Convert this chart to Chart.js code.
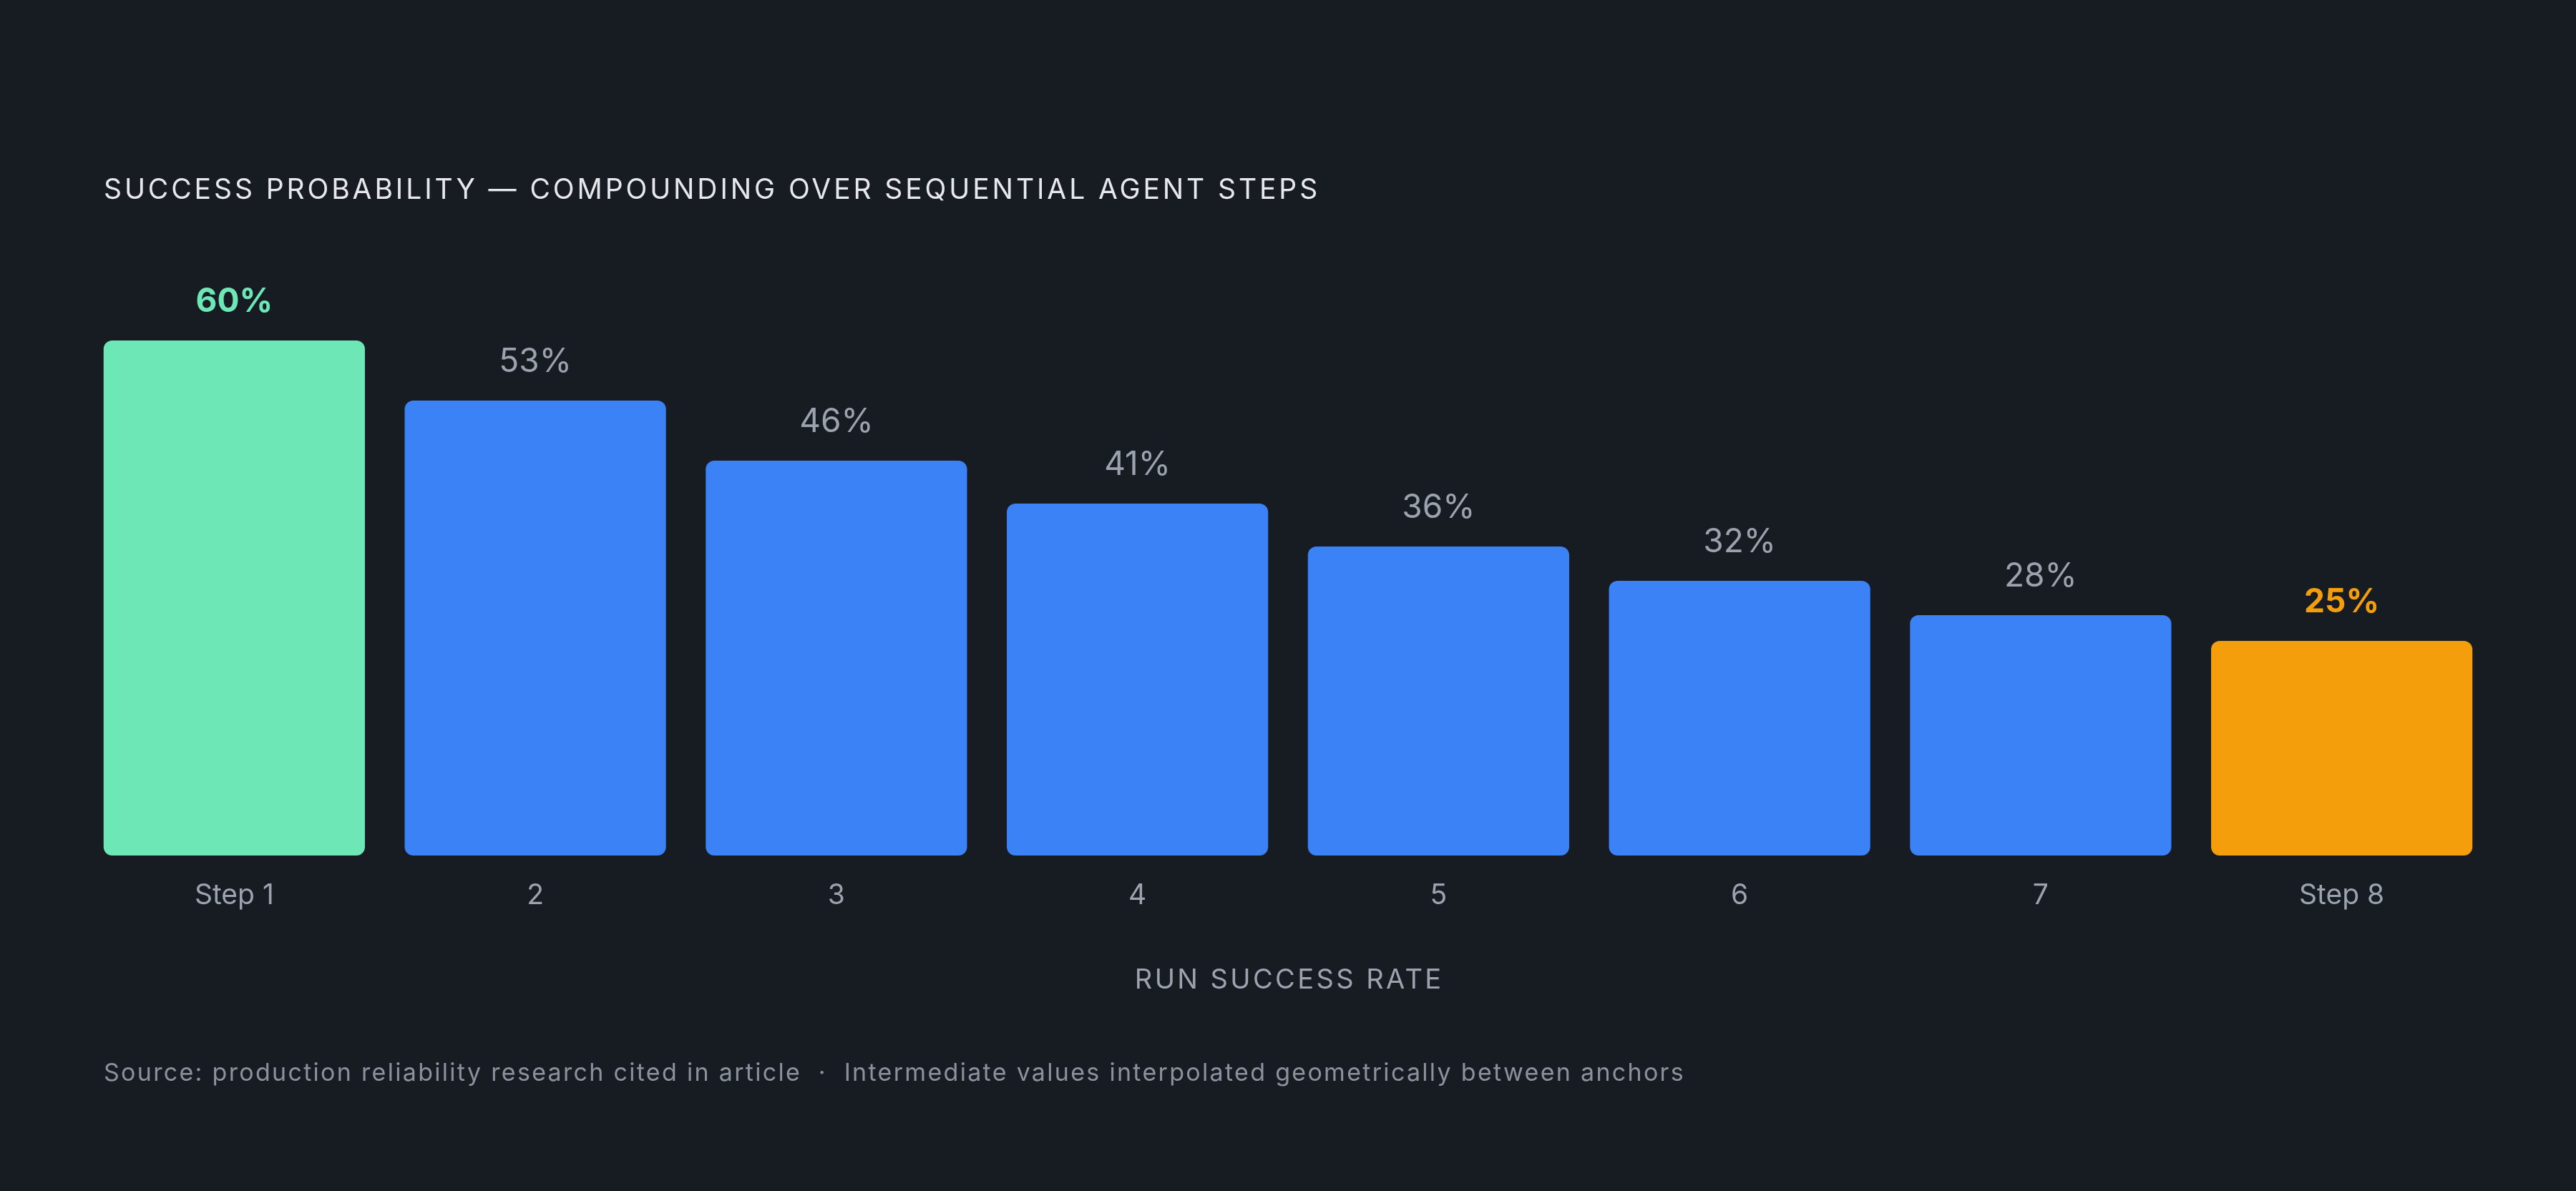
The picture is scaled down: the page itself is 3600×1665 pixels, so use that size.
<!DOCTYPE html>
<html>
<head>
<meta charset="utf-8">
<script src="https://cdn.jsdelivr.net/npm/chart.js@4.4.1/dist/chart.umd.min.js"></script>
<style>
  html, body { margin: 0; padding: 0; background: #171b22; }
  body { width: 3600px; height: 1665px; position: relative; overflow: hidden; font-family: Inter, "Noto Sans", sans-serif; }
  #c { position: absolute; left: 0; top: 0; }
  #title { position: absolute; left: 145px; top: 244px; font-size: 39px; line-height: 1; color: #e6e8ec; letter-spacing: 3.9px; font-weight: 400; white-space: nowrap; }
  #source { position: absolute; left: 145px; top: 1482px; font-size: 34px; line-height: 1; color: #8c929d; letter-spacing: 2.3px; white-space: nowrap; }
</style>
</head>
<body>
<canvas id="c" width="3600" height="1665"></canvas>
<div id="title">SUCCESS PROBABILITY — COMPOUNDING OVER SEQUENTIAL AGENT STEPS</div>
<div id="source">Source: production reliability research cited in article &nbsp;·&nbsp; Intermediate values interpolated geometrically between anchors</div>
<script>
const categories = ["Step 1", "2", "3", "4", "5", "6", "7", "Step 8"];
const successRate = [60, 53, 46, 41, 36, 32, 28, 25];
const barColors = ["#6ee7b7", "#3b82f6", "#3b82f6", "#3b82f6", "#3b82f6", "#3b82f6", "#3b82f6", "#f59e0b"];
const labelColors = ["#6ee7b7", "#9ca3af", "#9ca3af", "#9ca3af", "#9ca3af", "#9ca3af", "#9ca3af", "#f59e0b"];
const labelBold = [true, false, false, false, false, false, false, true];
const axisTitle = "RUN SUCCESS RATE";

const valueLabels = {
  id: 'valueLabels',
  afterDatasetsDraw(chart) {
    const ctx = chart.ctx;
    const meta = chart.getDatasetMeta(0);
    ctx.save();
    ctx.textAlign = 'center';
    ctx.textBaseline = 'alphabetic';
    meta.data.forEach((bar, i) => {
      ctx.font = (labelBold[i] ? '700 ' : '400 ') + '46px Inter';
      ctx.fillStyle = labelColors[i];
      ctx.fillText(successRate[i] + '%', bar.x, bar.y - 40);
    });
    ctx.restore();
  }
};

const spacedAxisTitle = {
  id: 'spacedAxisTitle',
  beforeDraw(chart) {
    const sc = chart.scales.x;
    if (sc && !sc._spacedPatched) {
      const orig = sc.drawTitle;
      sc.drawTitle = function () {
        const ctx = this.ctx;
        ctx.save();
        ctx.letterSpacing = '3.4px';
        ctx.translate(1.7, 0);
        orig.call(this);
        ctx.restore();
      };
      sc._spacedPatched = true;
    }
  }
};

new Chart(document.getElementById('c'), {
  type: 'bar',
  data: {
    labels: categories,
    datasets: [{
      data: successRate,
      backgroundColor: barColors,
      borderRadius: 12,
      borderSkipped: false,
      barPercentage: 0.868,
      categoryPercentage: 1.0
    }]
  },
  options: {
    responsive: false,
    animation: false,
    devicePixelRatio: 1,
    layout: { padding: { left: 117, right: 117, top: 356, bottom: 0 } },
    plugins: {
      legend: { display: false },
      tooltip: { enabled: false },
      title: { display: false }
    },
    scales: {
      x: {
        grid: { display: false, drawTicks: false },
        border: { display: false },
        ticks: { color: '#9ca3af', font: { family: 'Inter', size: 39 }, padding: 33 },
        title: {
          display: true,
          text: axisTitle,
          color: '#9ca3af',
          font: { family: 'Inter', size: 38 },
          padding: { top: 0, bottom: 272 }
        },
        afterFit(scale) { scale.height = 469; }
      },
      y: {
        display: false,
        min: 0,
        max: 70
      }
    }
  },
  plugins: [valueLabels, spacedAxisTitle]
});
</script>
</body>
</html>
